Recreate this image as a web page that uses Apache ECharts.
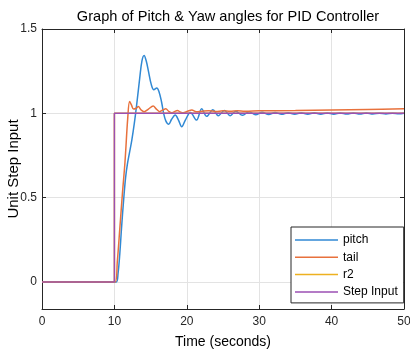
<!DOCTYPE html>
<html>
<head>
<meta charset="utf-8">
<script src="https://cdn.jsdelivr.net/npm/echarts@6/dist/echarts.min.js"></script>
<style>html,body{margin:0;padding:0;background:#fff}#c{width:410px;height:352px}</style>
</head>
<body>
<div id="c"></div>
<script>
// ---- data ----
var xTicks = [0, 10, 20, 30, 40, 50];
var yTicks = [0, 0.5, 1, 1.5];

var pitchT = [0, 10.25, 10.5, 10.75, 11.0, 11.3, 11.55, 11.8, 12.1, 12.4, 12.75, 13.1, 13.5, 13.8, 14.1, 14.4, 14.7, 15.1, 15.45, 15.85, 16.15, 16.5, 16.8, 17.1, 17.5, 17.9, 18.4, 18.85, 19.3, 19.8, 20.5, 21.35, 22.05, 22.75, 23.6, 24.35, 25.2, 26.0, 26.75, 27.7, 28.6, 29.5, 30.4, 31.3, 32.2, 33.1, 34.0, 34.9, 35.8, 36.7, 37.6, 38.5, 39.4, 40.3, 41.2, 42.1, 43.0, 43.9, 44.8, 45.7, 46.6, 47.5, 48.4, 49.3, 50];
var pitchY = [0, 0, 0.05, 0.17, 0.33, 0.5, 0.62, 0.7, 0.77, 0.84, 0.94, 1.06, 1.21, 1.31, 1.343, 1.31, 1.25, 1.17, 1.14, 1.15, 1.13, 1.07, 1.0, 0.955, 0.935, 0.965, 0.99, 0.96, 0.92, 0.96, 1.005, 0.96, 1.027, 0.982, 1.022, 0.986, 1.017, 0.986, 1.012, 0.988, 1.01, 0.991, 1.007, 0.993, 1.005, 0.994, 1.004, 0.995, 1.003, 0.995, 1.003, 0.995, 1.002, 0.995, 1.002, 0.996, 1.002, 0.996, 1.002, 0.996, 1.001, 0.996, 1.001, 0.997, 1.0];

var tailT = [0, 10.1, 10.4, 10.77, 11.1, 11.46, 11.84, 12.1, 12.35, 12.65, 13.0, 13.3, 13.7, 14.1, 14.7, 15.35, 15.8, 16.25, 16.7, 17.1, 17.5, 17.9, 18.3, 18.7, 19.1, 19.5, 20.1, 20.7, 21.3, 22, 23, 24, 25, 26, 27, 28, 30, 35, 40, 45, 50];
var tailY = [0, 0, 0.12, 0.33, 0.52, 0.71, 0.97, 1.07, 1.05, 1.025, 1.03, 1.04, 1.02, 1.01, 1.025, 1.043, 1.025, 1.01, 1.02, 1.027, 1.012, 1.003, 1.01, 1.017, 1.008, 1.003, 1.012, 1.02, 1.01, 1.012, 1.016, 1.011, 1.015, 1.012, 1.015, 1.013, 1.015, 1.017, 1.02, 1.023, 1.027];

var r2T = [0, 10, 10, 50];
var r2Y = [0, 0, 1, 1];

var stepT = [0, 10, 10, 50];
var stepY = [0, 0, 1, 1];

var seriesNames = ['pitch', 'tail', 'r2', 'Step Input'];
var seriesColors = ['#3189d4', '#e8713c', '#edb120', '#9b4fb3'];

function pairs(t, y) { return t.map(function (v, i) { return [v, y[i]]; }); }

var FONT = "'Liberation Sans', Arial, sans-serif";
var AX = '#262626';
var GRIDC = '#e3e3e3';

var chart = echarts.init(document.getElementById('c'), null, { renderer: 'canvas' });

var baseX = {
  type: 'value', min: 0, max: 50, interval: 10,
  axisLine: { show: true, onZero: false, lineStyle: { color: AX, width: 1 } },
  axisTick: { show: true, inside: true, length: 4, lineStyle: { color: AX } },
  splitLine: { show: false }
};
var baseY = {
  type: 'value', min: -0.16, max: 1.5,
  axisLine: { show: true, onZero: false, lineStyle: { color: AX, width: 1 } },
  axisTick: { show: true, inside: true, length: 4, customValues: yTicks, lineStyle: { color: AX } },
  splitLine: { show: false }
};

var option = {
  animation: false,
  backgroundColor: '#fff',
  title: {
    text: 'Graph of Pitch & Yaw angles for PID Controller',
    left: 223, top: 4, textAlign: 'center',
    textStyle: { fontFamily: FONT, fontSize: 14.6, fontWeight: 'normal', color: '#000' }
  },
  grid: { left: 42, right: 6, top: 29, bottom: 43, containLabel: false, outerBoundsMode: 'none' },
  legend: {
    orient: 'vertical', left: 291, top: 227,
    data: seriesNames,
    icon: 'rect', itemWidth: 43, itemHeight: 1.5, itemGap: 3.3, itemTextGap: 4,
    padding: [6, 6, 4, 4],
    backgroundColor: '#fff', borderColor: AX, borderWidth: 1, borderRadius: 0,
    textStyle: { fontFamily: FONT, fontSize: 12, color: '#000', lineHeight: 14 }
  },
  xAxis: [
    Object.assign({}, baseX, {
      position: 'bottom',
      name: 'Time (seconds)', nameLocation: 'middle', nameGap: 26, nameMoveOverlap: false,
      nameTextStyle: { fontFamily: FONT, fontSize: 14, color: '#000' },
      axisLabel: { show: true, margin: 7, fontFamily: FONT, fontSize: 12, color: AX },
      splitLine: { show: true, lineStyle: { color: GRIDC, width: 1 } }
    }),
    Object.assign({}, baseX, { position: 'top', axisLabel: { show: false } })
  ],
  yAxis: [
    Object.assign({}, baseY, {
      position: 'left',
      name: 'Unit Step Input', nameLocation: 'middle', nameGap: 21, nameMoveOverlap: false,
      nameTextStyle: { fontFamily: FONT, fontSize: 15, color: '#000' },
      axisLabel: { show: true, margin: 5, customValues: yTicks, fontFamily: FONT, fontSize: 12, color: AX },
      splitLine: { show: true, lineStyle: { color: GRIDC, width: 1 } }
    }),
    Object.assign({}, baseY, { position: 'right', axisLabel: { show: false } })
  ],
  series: [
    { name: seriesNames[0], data: pairs(pitchT, pitchY) },
    { name: seriesNames[1], data: pairs(tailT, tailY) },
    { name: seriesNames[2], data: pairs(r2T, r2Y), smooth: false },
    { name: seriesNames[3], data: pairs(stepT, stepY), smooth: false }
  ].map(function (s, i) {
    return Object.assign({
      type: 'line', xAxisIndex: 0, yAxisIndex: 0,
      symbol: 'none', showSymbol: false,
      smooth: 0.35,
      color: seriesColors[i],
      lineStyle: { color: seriesColors[i], width: 1.5 },
      itemStyle: { color: seriesColors[i] },
      z: 2 + i
    }, s);
  })
};
chart.setOption(option);
</script>
</body>
</html>
